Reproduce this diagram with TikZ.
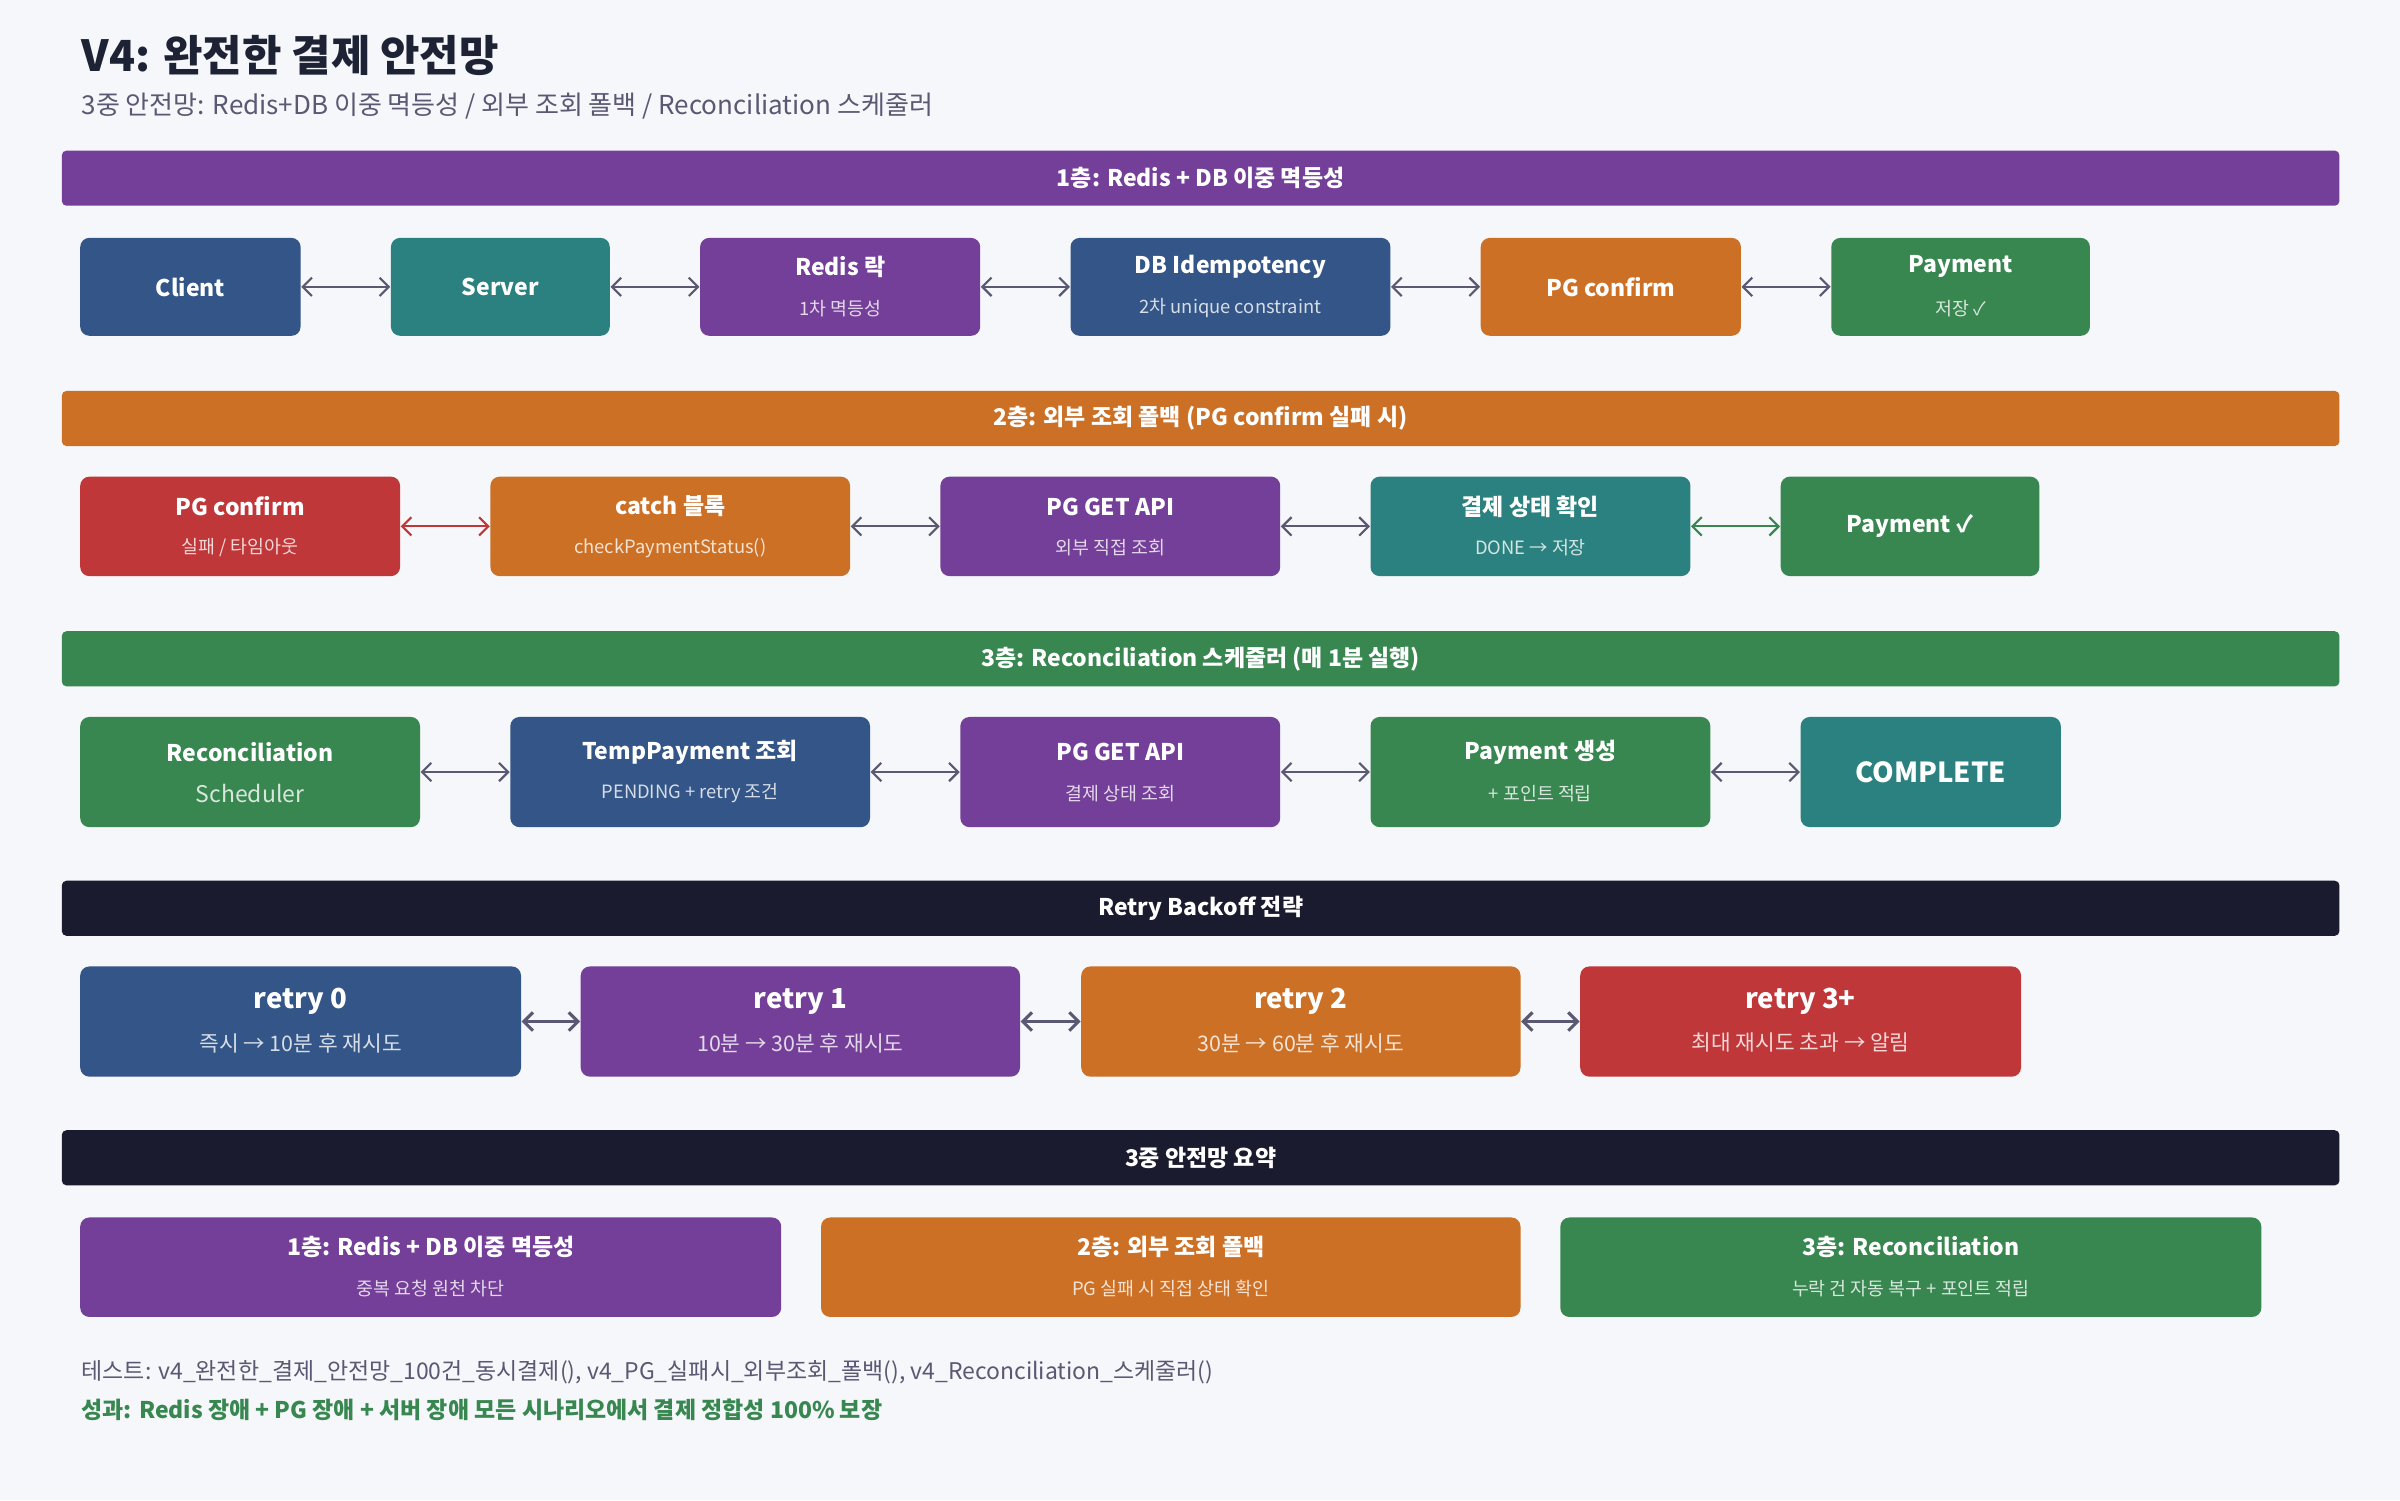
\documentclass[tikz,border=0pt]{standalone}
\usepackage{fontspec}
\setmainfont{Noto Sans CJK KR}
\usetikzlibrary{arrows.meta}
\definecolor{bgc}{HTML}{F5F7FA}
\definecolor{cpurple}{HTML}{743F98}
\definecolor{corange}{HTML}{CC7026}
\definecolor{cgreen}{HTML}{388750}
\definecolor{cblue}{HTML}{335587}
\definecolor{cteal}{HTML}{2B817F}
\definecolor{cred}{HTML}{C0373A}
\definecolor{cdark}{HTML}{1A1B2E}
\definecolor{cgray}{HTML}{5A5873}
\definecolor{ctext}{HTML}{1E2235}
\tikzset{
  box/.style={rounded corners=3pt,draw=none,inner sep=0pt,anchor=north west},
  bar/.style={rounded corners=1.5pt,inner sep=0pt,anchor=north west,text=white,font=\bfseries\fontsize{7.5}{9}\selectfont},
  con/.style={{Straight Barb[length=3pt,width=6pt]}-{Straight Barb[length=3pt,width=6pt]},cgray,line width=0.7pt},
  ttl/.style={text=white,font=\bfseries\fontsize{7.5}{9}\selectfont},
  sub/.style={text=white,opacity=0.8,font=\fontsize{6}{7}\selectfont},
}
% box with two text lines: name, x1, x2, y1, y2, colour, title, subtitle, title style
\newcommand{\twobox}[9][]{%
  \node[box,fill=#7,minimum width=#4*0.5pt-#3*0.5pt,minimum height=#6*0.5pt-#5*0.5pt] (#2) at (#3,#5) {};
  \node[ttl,#1] at ($(#2.center)+(0,-13)$) {#8};
  \node[sub,#1] at ($(#2.center)+(0,14)$) {#9};}
\usetikzlibrary{calc}
\begin{document}
\begin{tikzpicture}[x=0.5pt,y=-0.5pt]
  \fill[bgc] (0,0) rectangle (1568,980);
  \useasboundingbox (0,0) rectangle (1568,980);

  \node[anchor=base west,inner sep=0pt,text=ctext,font=\bfseries\fontsize{14}{16}\selectfont] (title) at (53,47) {V4: 완전한 결제 안전망};
  \node[anchor=base west,inner sep=0pt,text=cgray,font=\fontsize{8.5}{10}\selectfont] (subt) at (53,75) {3중 안전망: Redis+DB 이중 멱등성 / 외부 조회 폴백 / Reconciliation 스케줄러};

  % layer 1
  \node[bar,fill=cpurple,minimum width=744pt,minimum height=18pt] (bar1) at (40,98) {1층: Redis + DB 이중 멱등성};
  \node[box,fill=cblue,minimum width=72pt,minimum height=32pt,ttl] (client) at (52,155) {Client};
  \node[box,fill=cteal,minimum width=71.5pt,minimum height=32pt,ttl] (server) at (255,155) {Server};
  \twobox{redis}{457}{640}{155}{219}{cpurple}{Redis 락}{1차 멱등성}
  \twobox{dbidem}{699}{908}{155}{219}{cblue}{DB Idempotency}{2차 unique constraint}
  \node[box,fill=corange,minimum width=85pt,minimum height=32pt,ttl] (pgconf) at (967,155) {PG confirm};
  \twobox{pay1}{1196}{1365}{155}{219}{cgreen}{Payment}{저장 ✓}
  \draw[con] (client.east) -- (server.west);
  \draw[con] (server.east) -- (redis.west);
  \draw[con] (redis.east) -- (dbidem.west);
  \draw[con] (dbidem.east) -- (pgconf.west);
  \draw[con] (pgconf.east) -- (pay1.west);

  % layer 2
  \node[bar,fill=corange,minimum width=744pt,minimum height=18pt] (bar2) at (40,255) {2층: 외부 조회 폴백 (PG confirm 실패 시)};
  \twobox{pgfail}{52}{261}{311}{376}{cred}{PG confirm}{실패 / 타임아웃}
  \twobox{catch}{320}{555}{311}{376}{corange}{catch 블록}{checkPaymentStatus()}
  \twobox{pgget1}{614}{836}{311}{376}{cpurple}{PG GET API}{외부 직접 조회}
  \twobox{status}{895}{1104}{311}{376}{cteal}{결제 상태 확인}{DONE → 저장}
  \node[box,fill=cgreen,minimum width=84.5pt,minimum height=32.5pt,ttl] (pay2) at (1163,311) {Payment ✓};
  \draw[con,cred] (pgfail.east) -- (catch.west);
  \draw[con] (catch.east) -- (pgget1.west);
  \draw[con] (pgget1.east) -- (status.west);
  \draw[con,cgreen] (status.east) -- (pay2.west);

  % layer 3
  \node[bar,fill=cgreen,minimum width=744pt,minimum height=18pt] (bar3) at (40,412) {3층: Reconciliation 스케줄러 (매 1분 실행)};
  \twobox[font=\fontsize{7.5}{9}\selectfont]{recon}{52}{274}{468}{540}{cgreen}{\textbf{Reconciliation}}{Scheduler}
  \twobox{temp}{333}{568}{468}{540}{cblue}{TempPayment 조회}{PENDING + retry 조건}
  \twobox{pgget2}{627}{836}{468}{540}{cpurple}{PG GET API}{결제 상태 조회}
  \twobox{create}{895}{1117}{468}{540}{cgreen}{Payment 생성}{+ 포인트 적립}
  \node[box,fill=cteal,minimum width=85pt,minimum height=36pt,ttl,font=\bfseries\fontsize{9}{11}\selectfont] (complete) at (1176,468) {COMPLETE};
  \draw[con] (recon.east) -- (temp.west);
  \draw[con] (temp.east) -- (pgget2.west);
  \draw[con] (pgget2.east) -- (create.west);
  \draw[con] (create.east) -- (complete.west);

  % retry backoff
  \node[bar,fill=cdark,minimum width=744pt,minimum height=18pt] (bar4) at (40,575) {Retry Backoff 전략};
  \tikzset{ttl/.append style={font=\bfseries\fontsize{9}{11}\selectfont},sub/.append style={font=\fontsize{7}{8}\selectfont}}
  \twobox{retry0}{52}{340}{631}{703}{cblue}{retry 0}{즉시 → 10분 후 재시도}
  \twobox{retry1}{379}{666}{631}{703}{cpurple}{retry 1}{10분 → 30분 후 재시도}
  \twobox{retry2}{706}{993}{631}{703}{corange}{retry 2}{30분 → 60분 후 재시도}
  \twobox{retry3}{1032}{1320}{631}{703}{cred}{retry 3+}{최대 재시도 초과 → 알림}
  \draw[con,line width=1pt] (retry0.east) -- (retry1.west);
  \draw[con,line width=1pt] (retry1.east) -- (retry2.west);
  \draw[con,line width=1pt] (retry2.east) -- (retry3.west);
  \tikzset{ttl/.append style={font=\bfseries\fontsize{7.5}{9}\selectfont},sub/.append style={font=\fontsize{6}{7}\selectfont}}

  % summary
  \node[bar,fill=cdark,minimum width=744pt,minimum height=18pt] (bar5) at (40,738) {3중 안전망 요약};
  \twobox{sum1}{52}{510}{795}{860}{cpurple}{1층: Redis + DB 이중 멱등성}{중복 요청 원천 차단}
  \twobox{sum2}{536}{993}{795}{860}{corange}{2층: 외부 조회 폴백}{PG 실패 시 직접 상태 확인}
  \twobox{sum3}{1019}{1477}{795}{860}{cgreen}{3층: Reconciliation}{누락 건 자동 복구 + 포인트 적립}

  \node[anchor=base west,inner sep=0pt,text=cgray,font=\fontsize{7.5}{9}\selectfont] (tests) at (53,901) {테스트: v4\_완전한\_결제\_안전망\_100건\_동시결제(), v4\_PG\_실패시\_외부조회\_폴백(), v4\_Reconciliation\_스케줄러()};
  \node[anchor=base west,inner sep=0pt,text=cgreen,font=\bfseries\fontsize{7.5}{9}\selectfont] (result) at (53,927) {성과: Redis 장애 + PG 장애 + 서버 장애 모든 시나리오에서 결제 정합성 100\% 보장};
\end{tikzpicture}
\end{document}
